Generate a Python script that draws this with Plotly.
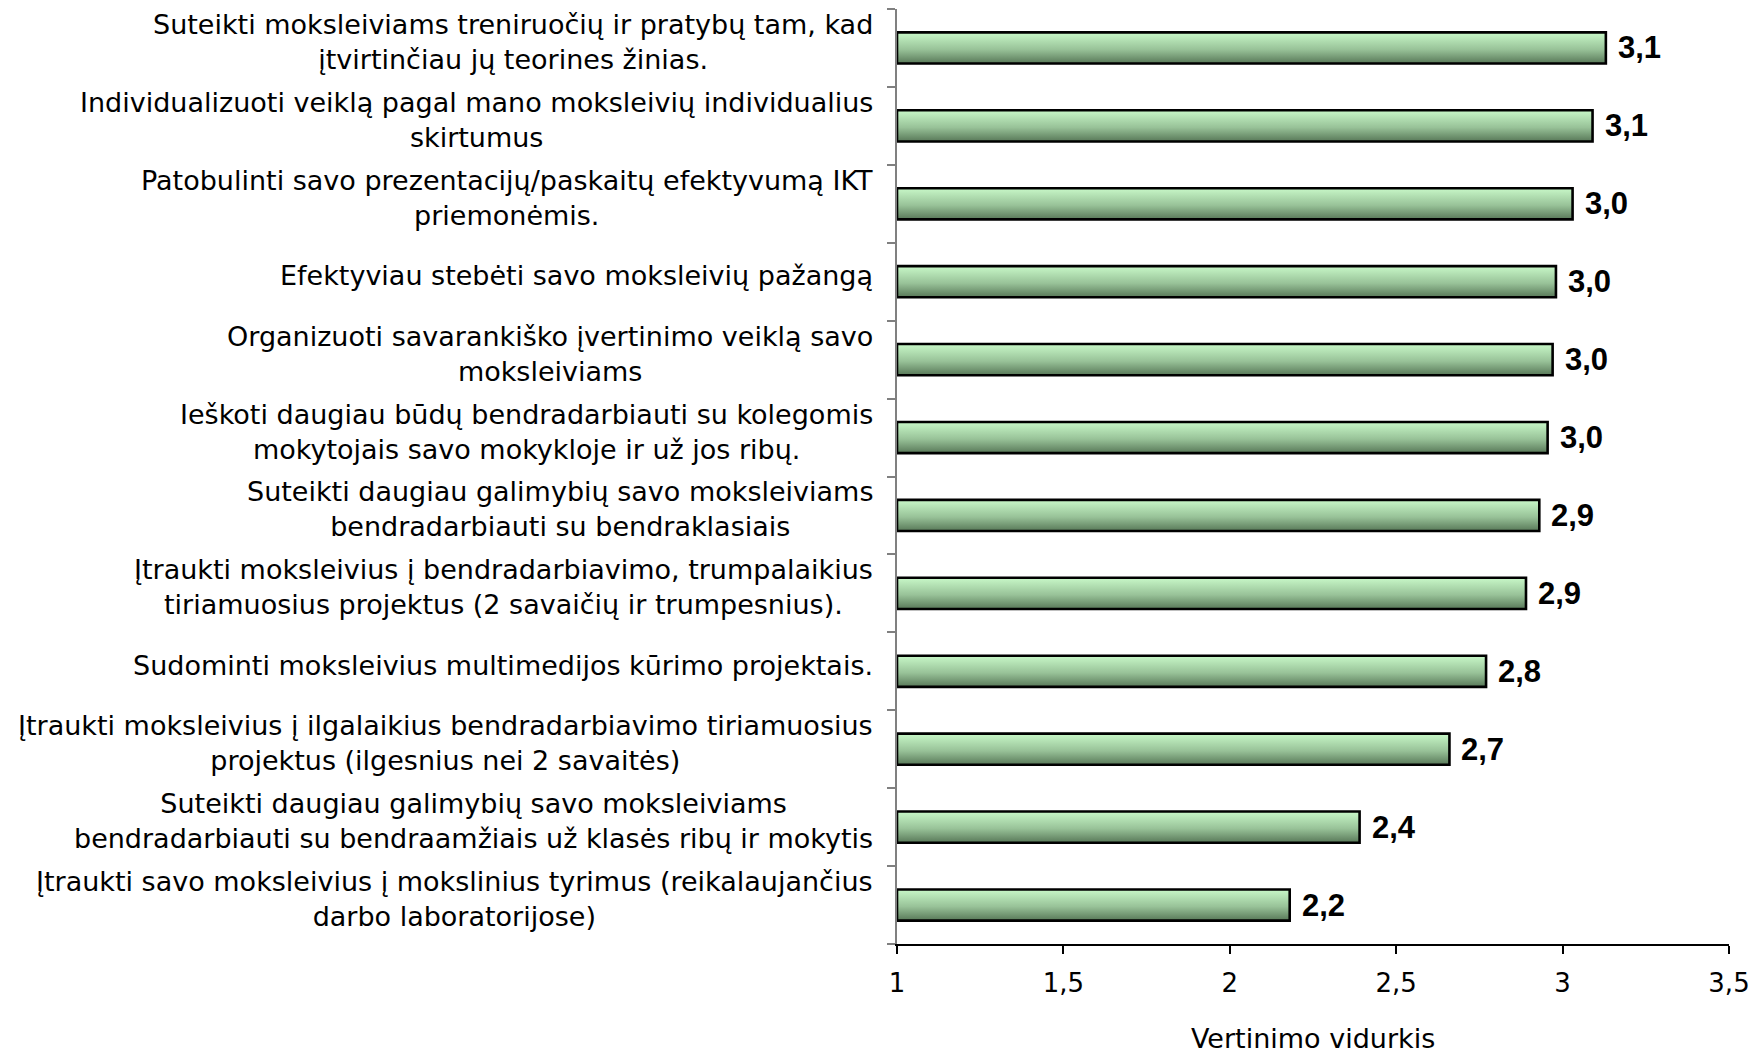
import plotly.graph_objects as go

# Survey items (top to bottom) and their mean ratings
categories = [
    "Suteikti moksleiviams treniruočių ir pratybų tam, kad<br>įtvirtinčiau jų teorines žinias.",
    "Individualizuoti veiklą pagal mano moksleivių individualius<br>skirtumus",
    "Patobulinti savo prezentacijų/paskaitų efektyvumą IKT<br>priemonėmis.",
    "Efektyviau stebėti savo moksleivių pažangą",
    "Organizuoti savarankiško įvertinimo veiklą savo<br>moksleiviams",
    "Ieškoti daugiau būdų bendradarbiauti su kolegomis<br>mokytojais savo mokykloje ir už jos ribų.",
    "Suteikti daugiau galimybių savo moksleiviams<br>bendradarbiauti su bendraklasiais",
    "Įtraukti moksleivius į bendradarbiavimo, trumpalaikius<br>tiriamuosius projektus (2 savaičių ir trumpesnius).",
    "Sudominti moksleivius multimedijos kūrimo projektais.",
    "Įtraukti moksleivius į ilgalaikius bendradarbiavimo tiriamuosius<br>projektus (ilgesnius nei 2 savaitės)",
    "Suteikti daugiau galimybių savo moksleiviams<br>bendradarbiauti su bendraamžiais už klasės ribų ir mokytis",
    "Įtraukti savo moksleivius į mokslinius tyrimus (reikalaujančius<br>darbo laboratorijose)",
]
values = [3.13, 3.09, 3.03, 2.98, 2.97, 2.955, 2.93, 2.89, 2.77, 2.66, 2.39, 2.18]

x_ticks = [1, 1.5, 2, 2.5, 3, 3.5]
x_tick_labels = ["1", "1,5", "2", "2,5", "3", "3,5"]
x_title = "Vertinimo vidurkis"

FONT = "DejaVu Sans, Liberation Sans, Arial, sans-serif"
BOLD_FONT = "Liberation Sans, Arial, sans-serif"
BASE = 1.0
HALF = 0.2
GRADIENT = [[0.0, "#587858"], [0.45, "#98c298"], [1.0, "#c8f8c8"]]

n = len(categories)
ypos = [n - 1 - i for i in range(n)]

fig = go.Figure()

for y, v in zip(ypos, values):
    fig.add_trace(go.Scatter(
        x=[BASE, v, v, BASE, BASE],
        y=[y - HALF, y - HALF, y + HALF, y + HALF, y - HALF],
        mode="lines",
        fill="toself",
        fillgradient=dict(type="vertical", colorscale=GRADIENT),
        line=dict(color="black", width=2.6),
        hoverinfo="skip",
        showlegend=False,
    ))

annotations = []
for y, v, label in zip(ypos, values, categories):
    # value label to the right of the bar end
    annotations.append(dict(
        x=v, y=y, xref="x", yref="y",
        text=f"{v:.1f}".replace(".", ","),
        showarrow=False, xanchor="left", yanchor="middle", xshift=10,
        font=dict(family=BOLD_FONT, size=31, color="black", weight="bold"),
    ))
    # category label, centred lines, block aligned to the axis
    annotations.append(dict(
        x=0, y=y, xref="paper", yref="y",
        text=label, align="center",
        showarrow=False, xanchor="right", yanchor="middle", xshift=-22, yshift=6,
        font=dict(family=FONT, size=27, color="black"),
    ))

# x-axis title below the tick labels
annotations.append(dict(
    x=0.5, y=0, xref="paper", yref="paper",
    text=x_title, showarrow=False, xanchor="center", yanchor="middle", yshift=-94,
    font=dict(family=FONT, size=27, color="black"),
))

fig.update_layout(
    width=1760, height=1053,
    margin=dict(l=897, r=31, t=9, b=109),
    paper_bgcolor="white", plot_bgcolor="white",
    annotations=annotations,
    font=dict(family=FONT, size=26, color="black"),
    xaxis=dict(
        range=[1, 3.5],
        tickvals=x_ticks, ticktext=x_tick_labels,
        ticks="outside", ticklen=8, tickcolor="black", tickwidth=1.5,
        showline=True, linecolor="black", linewidth=1.5,
        showgrid=False, zeroline=False,
        ticklabelstandoff=7, automargin=False,
        tickfont=dict(family=FONT, size=26, color="black"),
    ),
    yaxis=dict(
        range=[-0.5, n - 0.5],
        tickvals=[k - 0.5 for k in range(n + 1)],
        showticklabels=False, automargin=False,
        ticks="outside", ticklen=8, tickcolor="#808080", tickwidth=1.5,
        showline=True, linecolor="#808080", linewidth=2,
        showgrid=False, zeroline=False,
    ),
)

fig.write_html("out.html")
